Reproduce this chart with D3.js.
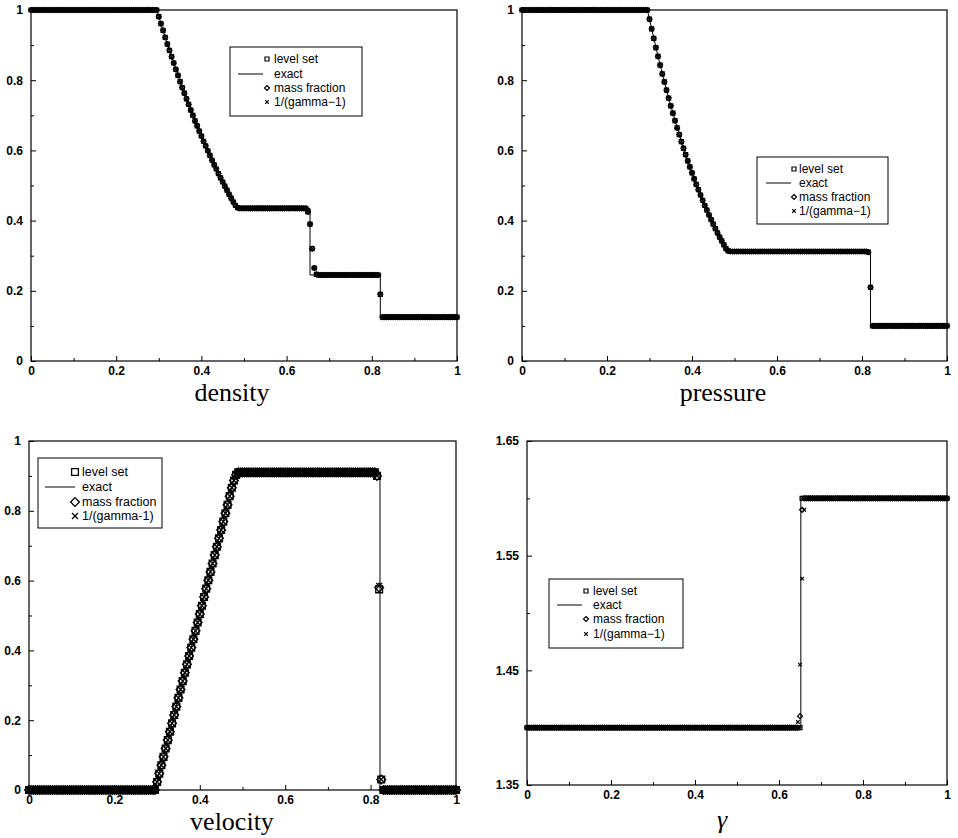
<!DOCTYPE html>
<html>
<head>
<meta charset="utf-8">
<script src="https://cdn.jsdelivr.net/npm/d3@7"></script>
<style>
  body { margin: 0; background: #fff; }
  svg { display: block; }
  .tick text { font-family: "Liberation Sans", Arial, sans-serif; font-weight: bold; font-size: 12px; fill: #000; }
  .tick line { stroke: #000; }
</style>
</head>
<body>
<svg id="chart" width="958" height="838"></svg>
<script>
// uniform mesh of 201 cells on [0, 1]
const xMesh = d3.range(201).map(i => i / 200);

// numerical solution, one value per mesh cell
const densityNum = [
  1, 1, 1, 1, 1, 1, 1, 1, 1, 1,
  1, 1, 1, 1, 1, 1, 1, 1, 1, 1,
  1, 1, 1, 1, 1, 1, 1, 1, 1, 1,
  1, 1, 1, 1, 1, 1, 1, 1, 1, 1,
  1, 1, 1, 1, 1, 1, 1, 1, 1, 1,
  1, 1, 1, 1, 1, 1, 1, 1, 1, 1,
  0.981, 0.961, 0.942, 0.922, 0.903, 0.885, 0.867, 0.849, 0.831, 0.814,
  0.796, 0.779, 0.763, 0.747, 0.731, 0.715, 0.700, 0.684, 0.670, 0.655,
  0.641, 0.626, 0.613, 0.599, 0.586, 0.572, 0.559, 0.547, 0.534, 0.522,
  0.510, 0.498, 0.487, 0.475, 0.464, 0.453, 0.443, 0.437,
  0.435, 0.435, 0.435, 0.435, 0.435, 0.435, 0.435, 0.435, 0.435, 0.435,
  0.435, 0.435, 0.435, 0.435, 0.435, 0.435, 0.435, 0.435, 0.435, 0.435,
  0.435, 0.435, 0.435, 0.435, 0.435, 0.435, 0.435, 0.435, 0.435, 0.435,
  0.435, 0.435,
  0.425, 0.39, 0.32, 0.265, 0.247,
  0.245, 0.245, 0.245, 0.245, 0.245, 0.245, 0.245, 0.245, 0.245, 0.245,
  0.245, 0.245, 0.245, 0.245, 0.245, 0.245, 0.245, 0.245, 0.245, 0.245,
  0.245, 0.245, 0.245, 0.245, 0.245, 0.245, 0.245, 0.245, 0.245,
  0.19,
  0.125, 0.125, 0.125, 0.125, 0.125, 0.125, 0.125, 0.125, 0.125, 0.125,
  0.125, 0.125, 0.125, 0.125, 0.125, 0.125, 0.125, 0.125, 0.125, 0.125,
  0.125, 0.125, 0.125, 0.125, 0.125, 0.125, 0.125, 0.125, 0.125, 0.125,
  0.125, 0.125, 0.125, 0.125, 0.125, 0.125
];

const pressureNum = [
  1, 1, 1, 1, 1, 1, 1, 1, 1, 1,
  1, 1, 1, 1, 1, 1, 1, 1, 1, 1,
  1, 1, 1, 1, 1, 1, 1, 1, 1, 1,
  1, 1, 1, 1, 1, 1, 1, 1, 1, 1,
  1, 1, 1, 1, 1, 1, 1, 1, 1, 1,
  1, 1, 1, 1, 1, 1, 1, 1, 1, 1,
  0.974, 0.946, 0.919, 0.893, 0.868, 0.843, 0.818, 0.795, 0.772, 0.749,
  0.727, 0.706, 0.685, 0.664, 0.645, 0.625, 0.606, 0.588, 0.570, 0.553,
  0.536, 0.519, 0.503, 0.488, 0.473, 0.458, 0.443, 0.430, 0.416, 0.403,
  0.390, 0.377, 0.365, 0.353, 0.342, 0.331, 0.320, 0.314,
  0.312, 0.312, 0.312, 0.312, 0.312, 0.312, 0.312, 0.312, 0.312, 0.312,
  0.312, 0.312, 0.312, 0.312, 0.312, 0.312, 0.312, 0.312, 0.312, 0.312,
  0.312, 0.312, 0.312, 0.312, 0.312, 0.312, 0.312, 0.312, 0.312, 0.312,
  0.312, 0.312, 0.312, 0.312, 0.312, 0.312, 0.312, 0.312, 0.312, 0.312,
  0.312, 0.312, 0.312, 0.312, 0.312, 0.312, 0.312, 0.312, 0.312, 0.312,
  0.312, 0.312, 0.312, 0.312, 0.312, 0.312, 0.312, 0.312, 0.312, 0.312,
  0.312, 0.312, 0.312, 0.312, 0.312,
  0.31, 0.21,
  0.1, 0.1, 0.1, 0.1, 0.1, 0.1, 0.1, 0.1, 0.1, 0.1,
  0.1, 0.1, 0.1, 0.1, 0.1, 0.1, 0.1, 0.1, 0.1, 0.1,
  0.1, 0.1, 0.1, 0.1, 0.1, 0.1, 0.1, 0.1, 0.1, 0.1,
  0.1, 0.1, 0.1, 0.1, 0.1, 0.1
];

const velocityNum = [
  0, 0, 0, 0, 0, 0, 0, 0, 0, 0,
  0, 0, 0, 0, 0, 0, 0, 0, 0, 0,
  0, 0, 0, 0, 0, 0, 0, 0, 0, 0,
  0, 0, 0, 0, 0, 0, 0, 0, 0, 0,
  0, 0, 0, 0, 0, 0, 0, 0, 0, 0,
  0, 0, 0, 0, 0, 0, 0, 0, 0, 0,
  0.023, 0.047, 0.071, 0.095, 0.119, 0.143, 0.167, 0.191, 0.215, 0.239,
  0.264, 0.288, 0.312, 0.336, 0.360, 0.384, 0.408, 0.432, 0.456, 0.480,
  0.504, 0.528, 0.553, 0.577, 0.601, 0.625, 0.649, 0.673, 0.697, 0.721,
  0.745, 0.769, 0.793, 0.817, 0.842, 0.866, 0.887, 0.903,
  0.91, 0.91, 0.91, 0.91, 0.91, 0.91, 0.91, 0.91, 0.91, 0.91,
  0.91, 0.91, 0.91, 0.91, 0.91, 0.91, 0.91, 0.91, 0.91, 0.91,
  0.91, 0.91, 0.91, 0.91, 0.91, 0.91, 0.91, 0.91, 0.91, 0.91,
  0.91, 0.91, 0.91, 0.91, 0.91, 0.91, 0.91, 0.91, 0.91, 0.91,
  0.91, 0.91, 0.91, 0.91, 0.91, 0.91, 0.91, 0.91, 0.91, 0.91,
  0.91, 0.91, 0.91, 0.91, 0.91, 0.91, 0.91, 0.91, 0.91, 0.91,
  0.91, 0.91, 0.91, 0.91, 0.91,
  0.90, 0.575, 0.03,
  0, 0, 0, 0, 0, 0, 0, 0, 0, 0,
  0, 0, 0, 0, 0, 0, 0, 0, 0, 0,
  0, 0, 0, 0, 0, 0, 0, 0, 0, 0,
  0, 0, 0, 0, 0
];

const gammaNum = [
  1.4, 1.4, 1.4, 1.4, 1.4, 1.4, 1.4, 1.4, 1.4, 1.4,
  1.4, 1.4, 1.4, 1.4, 1.4, 1.4, 1.4, 1.4, 1.4, 1.4,
  1.4, 1.4, 1.4, 1.4, 1.4, 1.4, 1.4, 1.4, 1.4, 1.4,
  1.4, 1.4, 1.4, 1.4, 1.4, 1.4, 1.4, 1.4, 1.4, 1.4,
  1.4, 1.4, 1.4, 1.4, 1.4, 1.4, 1.4, 1.4, 1.4, 1.4,
  1.4, 1.4, 1.4, 1.4, 1.4, 1.4, 1.4, 1.4, 1.4, 1.4,
  1.4, 1.4, 1.4, 1.4, 1.4, 1.4, 1.4, 1.4, 1.4, 1.4,
  1.4, 1.4, 1.4, 1.4, 1.4, 1.4, 1.4, 1.4, 1.4, 1.4,
  1.4, 1.4, 1.4, 1.4, 1.4, 1.4, 1.4, 1.4, 1.4, 1.4,
  1.4, 1.4, 1.4, 1.4, 1.4, 1.4, 1.4, 1.4, 1.4, 1.4,
  1.4, 1.4, 1.4, 1.4, 1.4, 1.4, 1.4, 1.4, 1.4, 1.4,
  1.4, 1.4, 1.4, 1.4, 1.4, 1.4, 1.4, 1.4, 1.4, 1.4,
  1.4, 1.4, 1.4, 1.4, 1.4, 1.4, 1.4, 1.4, 1.4, 1.4,
  1.4,
  1.6, 1.6, 1.6, 1.6, 1.6, 1.6, 1.6, 1.6, 1.6, 1.6,
  1.6, 1.6, 1.6, 1.6, 1.6, 1.6, 1.6, 1.6, 1.6, 1.6,
  1.6, 1.6, 1.6, 1.6, 1.6, 1.6, 1.6, 1.6, 1.6, 1.6,
  1.6, 1.6, 1.6, 1.6, 1.6, 1.6, 1.6, 1.6, 1.6, 1.6,
  1.6, 1.6, 1.6, 1.6, 1.6, 1.6, 1.6, 1.6, 1.6, 1.6,
  1.6, 1.6, 1.6, 1.6, 1.6, 1.6, 1.6, 1.6, 1.6, 1.6,
  1.6, 1.6, 1.6, 1.6, 1.6, 1.6, 1.6, 1.6, 1.6, 1.6
];

// cells where a method differs from the level set values: [x, value]
const velocityMassFracCells = [[0.82, 0.58]];
const velocityInvGammaCells = [[0.82, 0.585]];
const gammaMassFracCells = [[0.65, 1.41], [0.655, 1.59]];
const gammaInvGammaCells = [[0.645, 1.405], [0.65, 1.455], [0.655, 1.53], [0.66, 1.59]];

// exact solutions (x, value) knots
const densityExactX = [0, 0.295, 0.30, 0.32, 0.34, 0.36, 0.38, 0.40, 0.42, 0.44, 0.46, 0.48, 0.484, 0.655, 0.655, 0.82, 0.82, 1];
const densityExactY = [1, 1, 0.981, 0.903, 0.831, 0.763, 0.700, 0.641, 0.586, 0.534, 0.487, 0.443, 0.435, 0.435, 0.245, 0.245, 0.125, 0.125];
const pressureExactX = [0, 0.295, 0.30, 0.32, 0.34, 0.36, 0.38, 0.40, 0.42, 0.44, 0.46, 0.48, 0.484, 0.82, 0.82, 1];
const pressureExactY = [1, 1, 0.974, 0.868, 0.772, 0.685, 0.606, 0.536, 0.473, 0.416, 0.365, 0.320, 0.312, 0.312, 0.1, 0.1];
const velocityExactX = [0, 0.295, 0.484, 0.822, 0.822, 1];
const velocityExactY = [0, 0, 0.91, 0.91, 0, 0];
const gammaExactX = [0, 0.652, 0.652, 1];
const gammaExactY = [1.4, 1.4, 1.6, 1.6];

// axis ticks
const xTicks = [0, 0.2, 0.4, 0.6, 0.8, 1];
const xMinorTicks = [0.1, 0.3, 0.5, 0.7, 0.9];
const xTickLabels = ['0', '0.2', '0.4', '0.6', '0.8', '1'];
const unitTicks = [0, 0.2, 0.4, 0.6, 0.8, 1];
const unitMinorTicks = [0.1, 0.3, 0.5, 0.7, 0.9];
const unitTickLabels = ['0', '0.2', '0.4', '0.6', '0.8', '1'];
const gammaTicks = [1.35, 1.45, 1.55, 1.65];
const gammaMinorTicks = [1.4, 1.5, 1.6];
const gammaTickLabels = ['1.35', '1.45', '1.55', '1.65'];

const methods = [
  {key: 'levelset', name: 'level set', type: 'square'},
  {key: 'exact', name: 'exact', type: 'line'},
  {key: 'massfrac', name: 'mass fraction', type: 'diamond'},
  {key: 'invgamma', name: '1/(gamma\u22121)', type: 'cross'}
];

const panels = [
  {
    num: densityNum, exX: densityExactX, exY: densityExactY, cells: {},
    left: 31, right: 457, top: 10, bottom: 361, yDomain: [0, 1],
    yTicks: unitTicks, yMinor: unitMinorTicks, yLabels: unitTickLabels,
    title: 'density', titleX: 232, titleY: 401, italic: false, big: false,
    legend: {x: 230, y: 47, w: 132, h: 69, rows: [59, 74, 88, 102], l0: 238, l1: 263, mx: 267, tx: 274}
  },
  {
    num: pressureNum, exX: pressureExactX, exY: pressureExactY, cells: {},
    left: 522, right: 947, top: 10, bottom: 361, yDomain: [0, 1],
    yTicks: unitTicks, yMinor: unitMinorTicks, yLabels: unitTickLabels,
    title: 'pressure', titleX: 723, titleY: 401, italic: false, big: false,
    legend: {x: 757, y: 157, w: 131, h: 67, rows: [169, 183, 197, 211], l0: 766, l1: 791, mx: 794, tx: 799}
  },
  {
    num: velocityNum, exX: velocityExactX, exY: velocityExactY,
    cells: {massfrac: velocityMassFracCells, invgamma: velocityInvGammaCells},
    left: 29, right: 456, top: 441, bottom: 790, yDomain: [0, 1],
    yTicks: unitTicks, yMinor: unitMinorTicks, yLabels: unitTickLabels,
    title: 'velocity', titleX: 232, titleY: 830, italic: false, big: true,
    legend: {x: 38, y: 458, w: 124, h: 70, rows: [472, 487, 502, 516], l0: 45, l1: 75, mx: 75, tx: 82}
  },
  {
    num: gammaNum, exX: gammaExactX, exY: gammaExactY,
    cells: {massfrac: gammaMassFracCells, invgamma: gammaInvGammaCells},
    left: 527, right: 947, top: 441, bottom: 785, yDomain: [1.35, 1.65],
    yTicks: gammaTicks, yMinor: gammaMinorTicks, yLabels: gammaTickLabels,
    title: '\u03b3', titleX: 722, titleY: 828, italic: true, big: false,
    legend: {x: 549, y: 579, w: 134, h: 69, rows: [591, 605, 619, 634], l0: 557, l1: 582, mx: 586, tx: 593}
  }
];

function markerPath(type, r) {
  if (type === 'square') return `M${-r},${-r}h${2 * r}v${2 * r}h${-2 * r}Z`;
  if (type === 'diamond') return `M0,${-r}L${r},0L0,${r}L${-r},0Z`;
  return `M${-r},${-r}L${r},${r}M${-r},${r}L${r},${-r}`;
}

function markerSize(type, big) {
  if (big) return {square: 3.4, diamond: 4.4, cross: 3}[type];
  return {square: 2, diamond: 2.5, cross: 1.8}[type];
}

// apply the cells where a method departs from the base values
function seriesValues(base, cells) {
  let vals = base.slice();
  (cells || []).forEach(c => { vals[Math.round(c[0] * 200)] = c[1]; });
  return vals;
}

const svg = d3.select('#chart');

panels.forEach(p => {
  const x = d3.scaleLinear().domain([0, 1]).range([p.left, p.right]);
  const y = d3.scaleLinear().domain(p.yDomain).range([p.bottom, p.top]);
  const g = svg.append('g');
  const sw = p.big ? 1.3 : 1.2;

  // axes with inward ticks
  g.append('g')
    .attr('transform', 'translate(0,' + p.bottom + ')')
    .call(d3.axisBottom(x).tickValues(xTicks).tickSize(-5).tickSizeOuter(0).tickPadding(5)
      .tickFormat((d, i) => xTickLabels[i]));
  g.append('g')
    .attr('transform', 'translate(0,' + p.bottom + ')')
    .call(d3.axisBottom(x).tickValues(xMinorTicks).tickSize(-3).tickSizeOuter(0).tickFormat(''));
  g.append('g')
    .attr('transform', 'translate(' + p.left + ',0)')
    .call(d3.axisLeft(y).tickValues(p.yTicks).tickSize(-5).tickSizeOuter(0).tickPadding(8)
      .tickFormat((d, i) => p.yLabels[i]));
  g.append('g')
    .attr('transform', 'translate(' + p.left + ',0)')
    .call(d3.axisLeft(y).tickValues(p.yMinor).tickSize(-3).tickSizeOuter(0).tickFormat(''));
  g.selectAll('.domain').remove();

  // frame
  g.append('rect')
    .attr('x', p.left).attr('y', p.top)
    .attr('width', p.right - p.left).attr('height', p.bottom - p.top)
    .attr('fill', 'none').attr('stroke', '#000').attr('stroke-width', 1.2);

  // numerical markers
  methods.filter(m => m.type !== 'line').forEach(m => {
    const vals = seriesValues(p.num, p.cells[m.key]);
    g.append('g')
      .selectAll('path')
      .data(xMesh.map((xv, i) => [xv, vals[i]]))
      .enter().append('path')
      .attr('transform', d => 'translate(' + x(d[0]) + ',' + y(d[1]) + ')')
      .attr('d', markerPath(m.type, markerSize(m.type, p.big)))
      .attr('fill', 'none')
      .attr('stroke', '#000')
      .attr('stroke-width', sw);
  });

  // exact solution
  g.append('path')
    .datum(d3.zip(p.exX, p.exY))
    .attr('fill', 'none')
    .attr('stroke', '#000')
    .attr('stroke-width', 1)
    .attr('d', d3.line().x(d => x(d[0])).y(d => y(d[1])));

  // legend
  const L = p.legend;
  const lg = g.append('g');
  lg.append('rect')
    .attr('x', L.x).attr('y', L.y).attr('width', L.w).attr('height', L.h)
    .attr('fill', '#fff').attr('stroke', '#000').attr('stroke-width', 1);
  methods.forEach((m, i) => {
    const ry = L.rows[i];
    if (m.type === 'line') {
      lg.append('line')
        .attr('x1', L.l0).attr('x2', L.l1).attr('y1', ry).attr('y2', ry)
        .attr('stroke', '#000').attr('stroke-width', 1);
    } else {
      lg.append('path')
        .attr('transform', 'translate(' + L.mx + ',' + ry + ')')
        .attr('d', markerPath(m.type, markerSize(m.type, p.big)))
        .attr('fill', 'none').attr('stroke', '#000').attr('stroke-width', sw);
    }
    lg.append('text')
      .attr('x', L.tx).attr('y', ry + 4)
      .attr('font-family', '"Liberation Sans", Arial, sans-serif')
      .attr('font-size', p.big ? 12.5 : 12)
      .text(p.big && m.type === 'cross' ? '1/(gamma-1)' : m.name);
  });

  // quantity label under the axis
  g.append('text')
    .attr('x', p.titleX).attr('y', p.titleY)
    .attr('text-anchor', 'middle')
    .attr('font-family', '"Liberation Serif", "Times New Roman", serif')
    .attr('font-style', p.italic ? 'italic' : 'normal')
    .attr('font-size', 26)
    .text(p.title);
});
</script>
</body>
</html>
